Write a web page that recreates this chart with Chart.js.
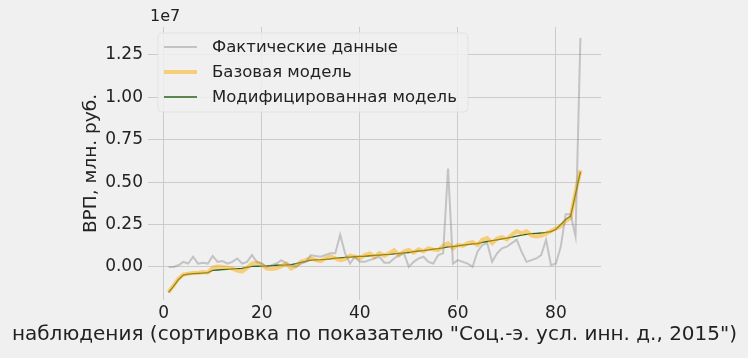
<!DOCTYPE html>
<html>
<head>
<meta charset="utf-8">
<script src="https://cdn.jsdelivr.net/npm/chart.js@4"></script>
<style>
  html, body { margin: 0; padding: 0; background: #f0f0f0; }
  #wrap { width: 748px; height: 358px; }
</style>
</head>
<body>
<div id="wrap"><canvas id="vrpChart" width="748" height="358"></canvas></div>
<script>
// номера наблюдений (регионы, отсортированные по показателю)
const observations = [1, 2, 3, 4, 5, 6, 7, 8, 9, 10, 11, 12, 13, 14, 15, 16, 17, 18, 19, 20,
    21, 22, 23, 24, 25, 26, 27, 28, 29, 30, 31, 32, 33, 34, 35, 36, 37, 38, 39, 40,
    41, 42, 43, 44, 45, 46, 47, 48, 49, 50, 51, 52, 53, 54, 55, 56, 57, 58, 59, 60,
    61, 62, 63, 64, 65, 66, 67, 68, 69, 70, 71, 72, 73, 74, 75, 76, 77, 78, 79, 80,
    81, 82, 83, 84, 85];

// значения в единицах 1e7 млн. руб.
const actual = [0.000, 0.000, 0.010, 0.030, 0.020, 0.060, 0.020, 0.025, 0.020, 0.065,
    0.030, 0.035, 0.020, 0.030, 0.050, 0.020, 0.030, 0.070, 0.030, 0.020,
    0.000, 0.010, 0.020, 0.040, 0.020, 0.010, 0.000, 0.020, 0.030, 0.070,
    0.065, 0.060, 0.070, 0.080, 0.080, 0.190, 0.080, 0.020, 0.060, 0.030,
    0.030, 0.040, 0.050, 0.060, 0.025, 0.025, 0.050, 0.070, 0.080, 0.000,
    0.030, 0.050, 0.060, 0.030, 0.020, 0.070, 0.080, 0.580, 0.020, 0.040,
    0.030, 0.020, 0.000, 0.090, 0.130, 0.140, 0.030, 0.080, 0.110, 0.120,
    0.140, 0.160, 0.090, 0.030, 0.040, 0.050, 0.070, 0.160, 0.010, 0.020,
    0.120, 0.310, 0.310, 0.180, 1.350];

const baseModel = [-0.148, -0.110, -0.070, -0.045, -0.040, -0.036, -0.036, -0.030, -0.034, -0.004,
    0.002, 0.000, -0.004, -0.010, -0.022, -0.028, -0.006, 0.020, 0.026, 0.014,
    -0.010, -0.012, -0.008, 0.004, 0.020, -0.010, 0.006, 0.030, 0.040, 0.052,
    0.040, 0.034, 0.050, 0.062, 0.050, 0.040, 0.046, 0.066, 0.060, 0.050,
    0.070, 0.080, 0.060, 0.082, 0.066, 0.080, 0.098, 0.070, 0.090, 0.100,
    0.084, 0.104, 0.092, 0.110, 0.102, 0.100, 0.124, 0.140, 0.110, 0.130,
    0.124, 0.140, 0.146, 0.130, 0.160, 0.170, 0.140, 0.168, 0.176, 0.162,
    0.190, 0.210, 0.200, 0.210, 0.186, 0.180, 0.184, 0.196, 0.212, 0.226,
    0.240, 0.270, 0.290, 0.440, 0.570];

const modifiedModel = [-0.150, -0.115, -0.075, -0.048, -0.042, -0.040, -0.038, -0.036, -0.034, -0.020,
    -0.018, -0.016, -0.014, -0.012, -0.010, -0.008, -0.002, 0.003, 0.004, 0.005,
    0.006, 0.008, 0.010, 0.011, 0.012, 0.014, 0.020, 0.027, 0.033, 0.040,
    0.042, 0.043, 0.045, 0.048, 0.052, 0.054, 0.056, 0.058, 0.060, 0.062,
    0.063, 0.066, 0.068, 0.070, 0.072, 0.074, 0.077, 0.080, 0.083, 0.085,
    0.090, 0.094, 0.096, 0.100, 0.105, 0.108, 0.112, 0.118, 0.120, 0.124,
    0.128, 0.132, 0.136, 0.138, 0.145, 0.150, 0.155, 0.160, 0.165, 0.170,
    0.176, 0.182, 0.188, 0.192, 0.196, 0.198, 0.200, 0.204, 0.208, 0.222,
    0.250, 0.280, 0.300, 0.430, 0.560];

const xTicks = [0, 20, 40, 60, 80];
const yTicks = [0, 0.25, 0.5, 0.75, 1.0, 1.25];
const seriesNames = ['Фактические данные', 'Базовая модель', 'Модифицированная модель'];
const xTitle = 'наблюдения (сортировка по показателю "Соц.-э. усл. инн. д., 2015")';

const FONT = 'DejaVu Sans';
const toPoints = arr => arr.map((v, i) => ({ x: observations[i], y: v }));

// легенда в рамке, множитель "1e7" и подпись оси X (без сжатия по ширине оси)
const extrasPlugin = {
    id: 'extras',
    afterDraw(chart) {
        const ctx = chart.ctx;
        const area = chart.chartArea;
        ctx.save();
        ctx.fillStyle = '#222';
        ctx.textBaseline = 'middle';

        ctx.font = '20px "' + FONT + '"';
        ctx.textAlign = 'center';
        ctx.fillText(xTitle, (area.left + area.right) / 2, 335);

        ctx.font = '16px "' + FONT + '"';
        ctx.textAlign = 'left';
        ctx.fillText('1e7', area.left + 2, 17);

        const bx = area.left + 10, by = 33, bw = 310, bh = 79;
        ctx.beginPath();
        ctx.roundRect(bx, by, bw, bh, 4);
        ctx.fillStyle = 'rgba(240,240,240,0.85)';
        ctx.fill();
        ctx.strokeStyle = '#e2e2e2';
        ctx.lineWidth = 1;
        ctx.stroke();

        ctx.font = '16.5px "' + FONT + '"';
        chart.data.datasets.forEach((ds, i) => {
            const y = by + 14 + i * 25;
            ctx.beginPath();
            ctx.moveTo(bx + 6, y);
            ctx.lineTo(bx + 39, y);
            ctx.strokeStyle = ds.borderColor;
            ctx.lineWidth = ds.borderWidth;
            ctx.stroke();
            ctx.fillStyle = '#222';
            ctx.fillText(ds.label, bx + 54, y + 1);
        });
        ctx.restore();
    }
};

const ctx = document.getElementById('vrpChart').getContext('2d');
const chart = new Chart(ctx, {
    type: 'line',
    data: {
        datasets: [{
            label: seriesNames[0],
            data: toPoints(actual),
            borderColor: 'rgba(128,128,128,0.4)',
            borderWidth: 2,
            pointRadius: 0,
            tension: 0
        }, {
            label: seriesNames[1],
            data: toPoints(baseModel),
            borderColor: 'rgba(255,170,0,0.5)',
            borderWidth: 4,
            pointRadius: 0,
            tension: 0
        }, {
            label: seriesNames[2],
            data: toPoints(modifiedModel),
            borderColor: '#2a6419',
            borderWidth: 1.3,
            pointRadius: 0,
            tension: 0
        }]
    },
    options: {
        responsive: false,
        animation: false,
        layout: { padding: { left: 80, right: 147, top: 27, bottom: 12 } },
        plugins: {
            legend: { display: false },
            tooltip: { enabled: false }
        },
        scales: {
            x: {
                type: 'linear',
                min: -3.2,
                max: 89.2,
                afterBuildTicks: scale => { scale.ticks = xTicks.map(v => ({ value: v })); },
                afterFit: scale => { scale.height = 46; },
                grid: { color: '#cbcbcb', lineWidth: 1, drawTicks: false },
                border: { display: false },
                ticks: {
                    color: '#222',
                    padding: 3,
                    font: { family: FONT, size: 17 },
                    maxRotation: 0
                }
            },
            y: {
                min: -0.195,
                max: 1.415,
                afterBuildTicks: scale => { scale.ticks = yTicks.map(v => ({ value: v })); },
                afterFit: scale => { scale.width = 68; },
                grid: { color: '#cbcbcb', lineWidth: 1, drawTicks: false },
                border: { display: false },
                ticks: {
                    color: '#222',
                    padding: 5,
                    font: { family: FONT, size: 17 },
                    callback: v => v.toFixed(2)
                },
                title: {
                    display: true,
                    text: 'ВРП, млн. руб.',
                    color: '#222',
                    padding: 0,
                    font: { family: FONT, size: 18.5 }
                }
            }
        }
    },
    plugins: [extrasPlugin]
});
</script>
</body>
</html>
